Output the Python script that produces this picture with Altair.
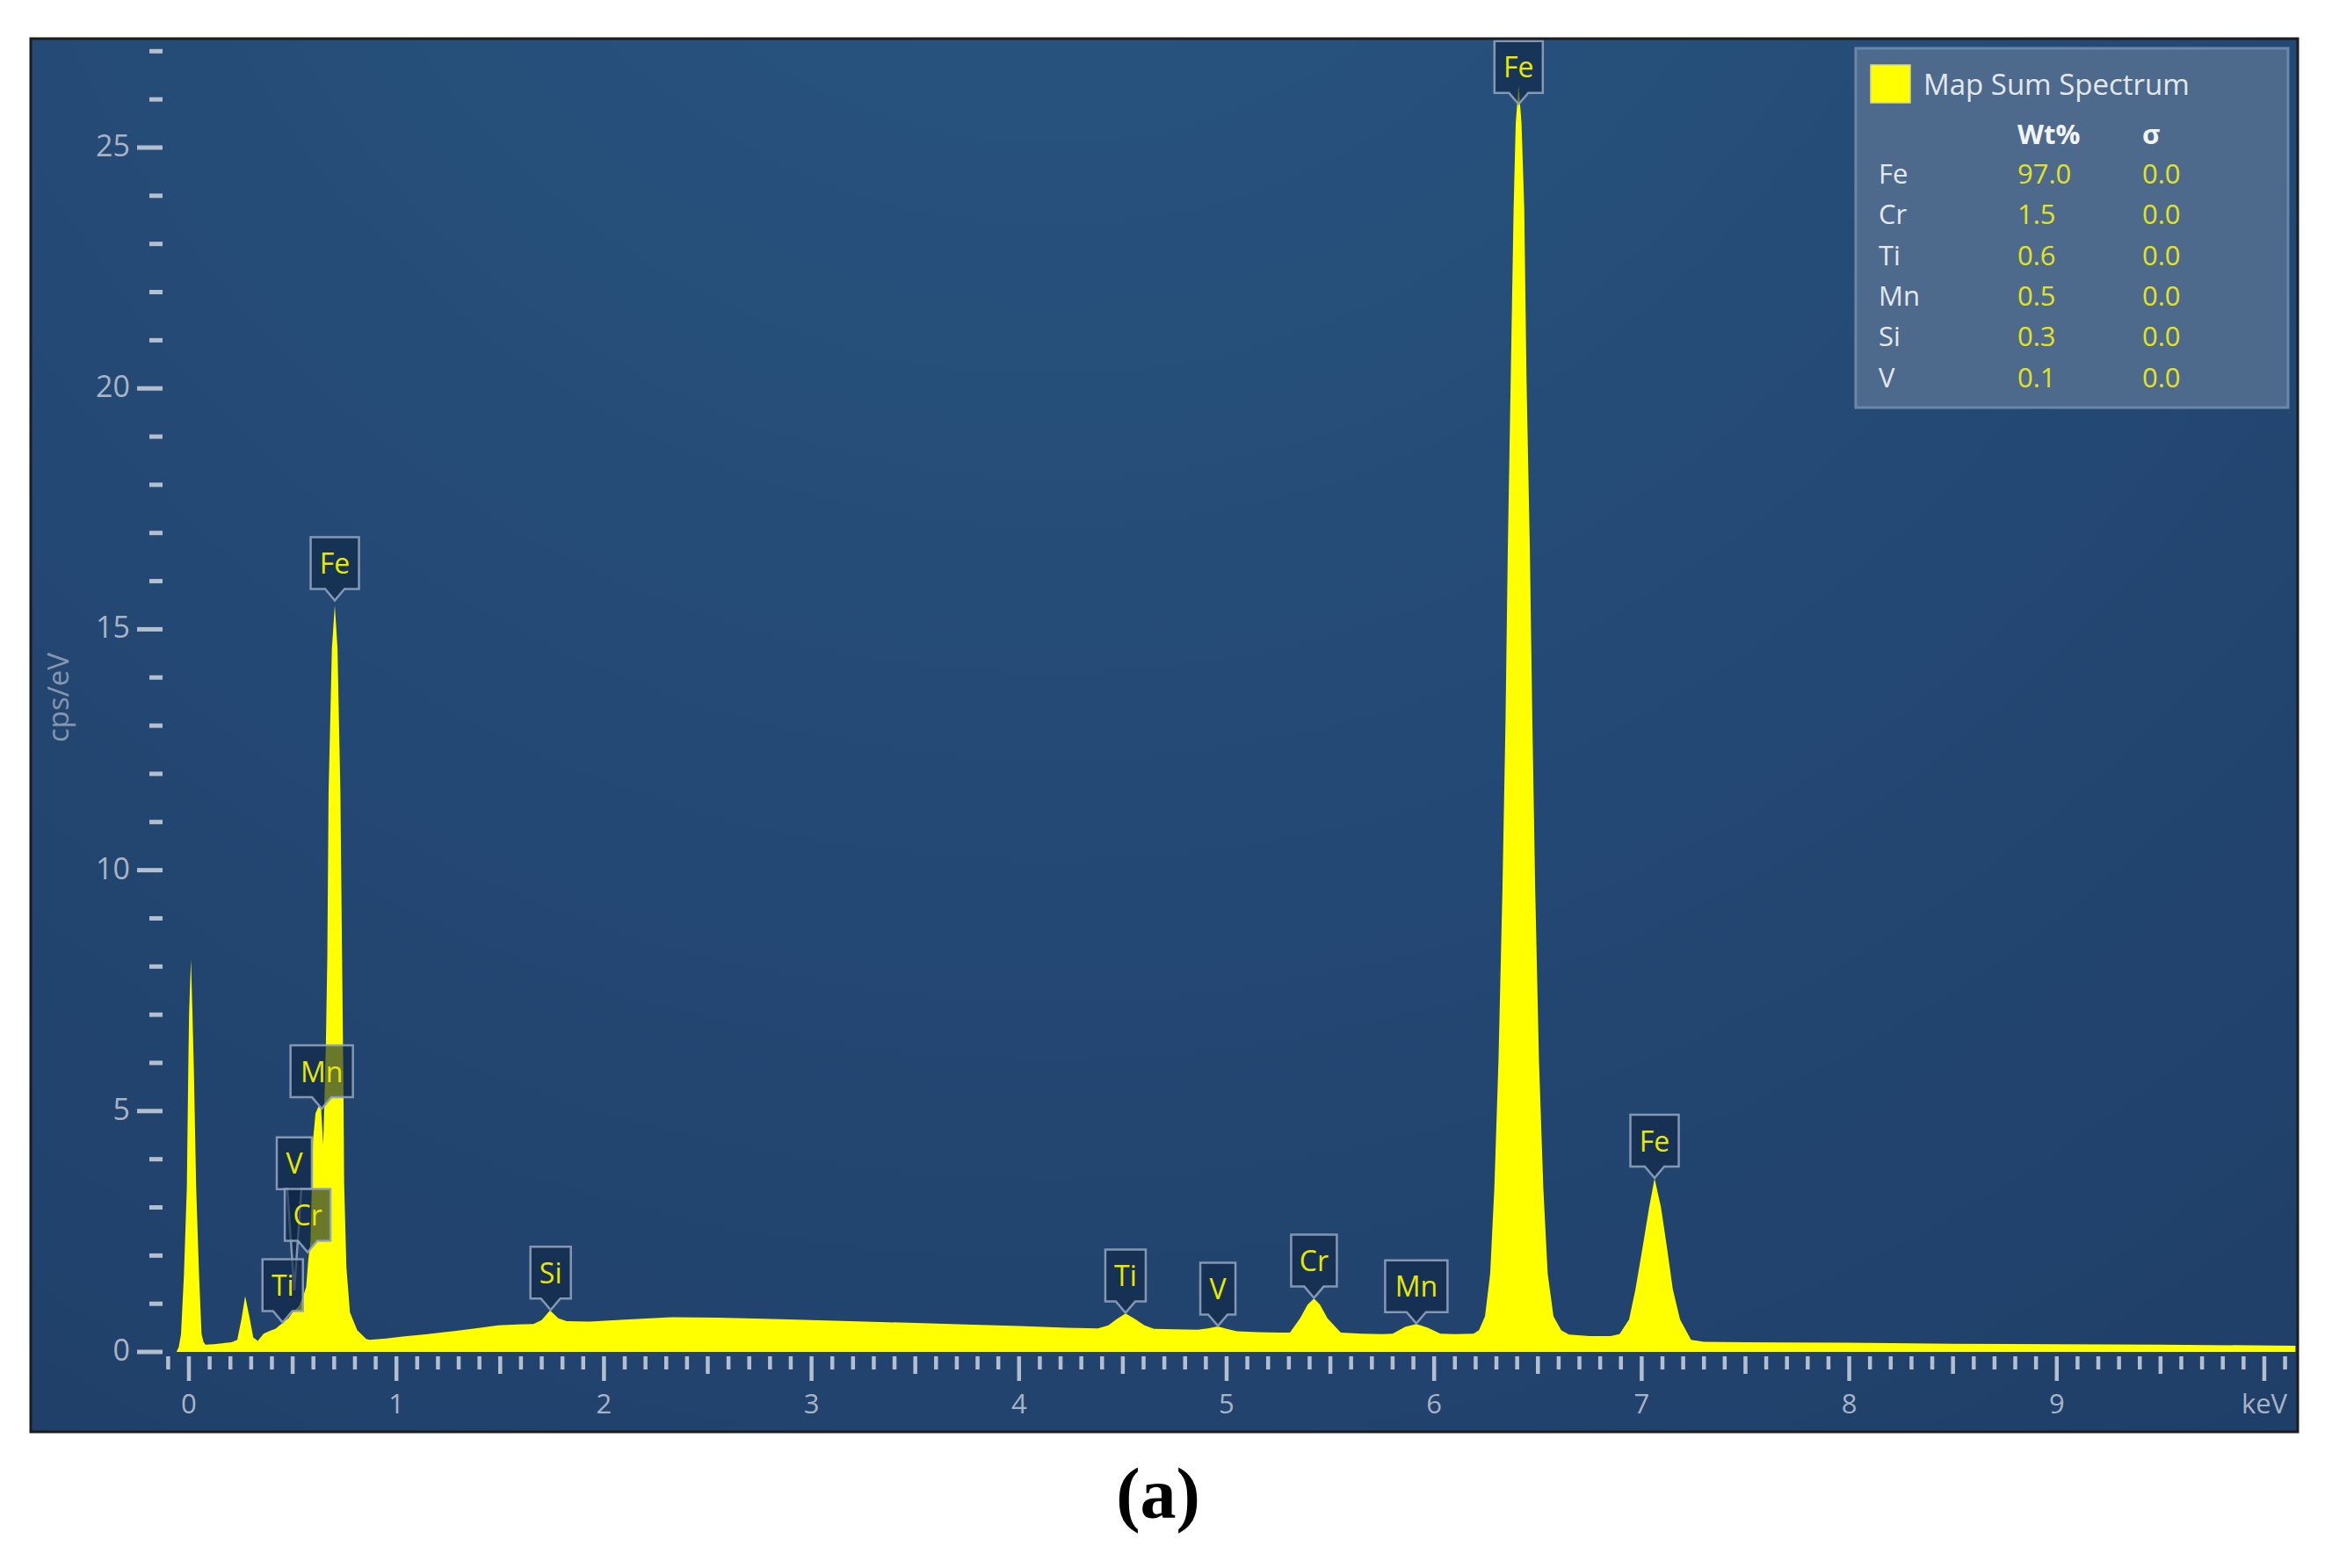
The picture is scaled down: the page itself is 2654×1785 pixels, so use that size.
import altair as alt
import pandas as pd

# ---------------- data ----------------
energy_kev = [
    -0.06, -0.049, -0.038, -0.024, -0.010, -0.003, 0.001, 0.010, 0.017, 0.024,
    0.035, 0.049, 0.061, 0.071, 0.08, 0.12, 0.16, 0.205, 0.233, 0.254,
    0.271, 0.293, 0.31, 0.332, 0.36, 0.39, 0.417, 0.445, 0.459, 0.48,
    0.50, 0.53, 0.55, 0.565, 0.575, 0.586, 0.592, 0.598, 0.61, 0.625,
    0.637, 0.647, 0.653, 0.66, 0.667, 0.673, 0.689, 0.703, 0.716, 0.730,
    0.738, 0.744, 0.748, 0.759, 0.776, 0.811, 0.854, 0.87, 0.95, 1.03,
    1.15, 1.27, 1.38, 1.49, 1.58, 1.66, 1.70, 1.74, 1.78, 1.82,
    1.93, 2.10, 2.33, 2.55, 2.77, 3.00, 3.26, 3.50, 3.74, 4.00,
    4.23, 4.38, 4.43, 4.47, 4.513, 4.56, 4.604, 4.65, 4.75, 4.86,
    4.91, 4.958, 5.00, 5.05, 5.15, 5.25, 5.305, 5.354, 5.39, 5.421,
    5.45, 5.486, 5.55, 5.65, 5.75, 5.80, 5.86, 5.914, 5.97, 6.03,
    6.10, 6.19, 6.216, 6.245, 6.270, 6.290, 6.310, 6.329, 6.344, 6.355,
    6.369, 6.383, 6.393, 6.407, 6.421, 6.434, 6.445, 6.461, 6.473, 6.487,
    6.505, 6.526, 6.547, 6.575, 6.612, 6.65, 6.75, 6.85, 6.893, 6.939,
    6.97, 7.005, 7.036, 7.062, 7.093, 7.121, 7.15, 7.185, 7.238, 7.30,
    7.50, 8.00, 8.50, 9.00, 9.50, 10.15,
]
counts_cps = [
    0.0, 0.10, 0.37, 1.59, 3.41, 5.84, 7.06, 8.15, 7.06, 5.84,
    3.41, 1.59, 0.37, 0.20, 0.15, 0.16, 0.18, 0.20, 0.25, 0.70,
    1.16, 0.70, 0.30, 0.23, 0.38, 0.44, 0.48, 0.58, 0.63, 0.70,
    0.82, 0.95, 1.15, 1.35, 1.90, 2.30, 3.40, 4.40, 4.95, 5.10,
    5.05, 4.30, 5.20, 6.40, 8.20, 11.60, 14.60, 15.50, 14.60, 11.60,
    8.20, 5.80, 3.50, 1.75, 0.82, 0.45, 0.27, 0.25, 0.28, 0.32,
    0.37, 0.43, 0.49, 0.55, 0.57, 0.58, 0.66, 0.86, 0.70, 0.64,
    0.63, 0.67, 0.72, 0.71, 0.69, 0.66, 0.63, 0.60, 0.57, 0.54,
    0.50, 0.49, 0.55, 0.68, 0.80, 0.68, 0.55, 0.48, 0.47, 0.46,
    0.49, 0.53, 0.48, 0.43, 0.41, 0.40, 0.40, 0.70, 0.98, 1.11,
    0.98, 0.70, 0.40, 0.38, 0.37, 0.38, 0.52, 0.58, 0.50, 0.38,
    0.37, 0.38, 0.45, 0.74, 1.63, 3.40, 6.05, 9.59, 13.13, 16.68,
    20.22, 23.76, 25.50, 26.30, 25.50, 23.76, 20.22, 16.68, 13.13, 9.59,
    6.05, 3.40, 1.63, 0.74, 0.45, 0.36, 0.33, 0.33, 0.37, 0.67,
    1.30, 2.19, 3.00, 3.60, 3.00, 2.19, 1.30, 0.67, 0.25, 0.21,
    0.20, 0.19, 0.17, 0.16, 0.15, 0.13,
]

peak_elements = ["Fe", "Mn", "V", "Cr", "Ti", "Si", "Ti", "V", "Cr", "Mn", "Fe", "Fe"]
peak_energy = [0.703, 0.640, 0.508, 0.572, 0.452, 1.743, 4.513, 4.958, 5.421, 5.914, 6.407, 7.062]
peak_top = [15.6, 5.05, 1.28, 2.07, 0.61, 0.87, 0.81, 0.54, 1.12, 0.59, 25.9, 3.61]

quant_elements = ["Fe", "Cr", "Ti", "Mn", "Si", "V"]
quant_wt = ["97.0", "1.5", "0.6", "0.5", "0.3", "0.1"]
quant_sigma = ["0.0", "0.0", "0.0", "0.0", "0.0", "0.0"]

y_tick_values = list(range(0, 28))
y_label_values = [0, 5, 10, 15, 20, 25]
x_tick_tenths = list(range(-1, 102))
x_label_pos = [0, 1, 2, 3, 4, 5, 6, 7, 8, 9, 10]
x_label_txt = ["0", "1", "2", "3", "4", "5", "6", "7", "8", "9", "keV"]

# ---------------- style ----------------
W, H = 2580, 1586
FONT = "Open Sans"
TICK = "#b3bfcf"
LAB = "#a8b4c6"
YEL = "#ffff00"
LABTXT = "#e8e800"

xs = alt.Scale(domain=[-0.762, 10.161], nice=False, zero=False)
ys = alt.Scale(domain=[-1.659, 27.261], nice=False, zero=False)

one = pd.DataFrame({"k": [0]})

grad = {
    "gradient": "radial",
    "x1": 0.45, "y1": 0.0, "x2": 0.45, "y2": 0.0, "r1": 0, "r2": 1.0,
    "stops": [
        {"offset": 0, "color": "#2a5884"},
        {"offset": 0.5, "color": "#244a75"},
        {"offset": 1, "color": "#1f3e67"},
    ],
}
bg = alt.Chart(one).mark_rect(fill=grad).encode(
    x=alt.value(0), x2=alt.value(W), y=alt.value(0), y2=alt.value(H)
)

# y ticks
df_yt = pd.DataFrame({"v": y_tick_values})
df_yt["major"] = df_yt["v"] % 5 == 0
ymaj = alt.Chart(df_yt[df_yt["major"]]).mark_rule(color=TICK, strokeWidth=5).encode(
    x=alt.value(121), x2=alt.value(150), y=alt.Y("v:Q", scale=ys, axis=None)
)
ymin = alt.Chart(df_yt[~df_yt["major"]]).mark_rule(color=TICK, strokeWidth=5).encode(
    x=alt.value(135), x2=alt.value(150), y=alt.Y("v:Q", scale=ys, axis=None)
)
df_yl = pd.DataFrame({"v": y_label_values, "t": [str(v) for v in y_label_values]})
ylab = alt.Chart(df_yl).mark_text(
    align="right", baseline="middle", font=FONT, fontSize=34, color=LAB
).encode(x=alt.value(113), y=alt.Y("v:Q", scale=ys, axis=None), text="t:N")
ytitle = alt.Chart(pd.DataFrame({"t": ["cps/eV"]})).mark_text(
    angle=270, align="center", baseline="middle", font=FONT, fontSize=33, color="#8596ae"
).encode(x=alt.value(33), y=alt.value(750), text="t:N")

# spectrum
df_spec = pd.DataFrame({"e": energy_kev, "c": counts_cps})
area = alt.Chart(df_spec).transform_calculate(base="0").mark_area(
    color=YEL, interpolate="linear", opacity=1
).encode(
    x=alt.X("e:Q", scale=xs, axis=None),
    y=alt.Y("c:Q", scale=ys, axis=None),
    y2=alt.Y2("base:Q"),
)

# x ticks
df_xt = pd.DataFrame({"k": x_tick_tenths})
df_xt["t"] = df_xt["k"] / 10.0
kind = []
for k in x_tick_tenths:
    if k % 10 == 0:
        kind.append("int")
    elif k % 5 == 0:
        kind.append("half")
    else:
        kind.append("minor")
df_xt["kind"] = kind
xt_layers = []
for kd, bottom in [("minor", 1515), ("half", 1520), ("int", 1528)]:
    xt_layers.append(
        alt.Chart(df_xt[df_xt["kind"] == kd]).mark_rule(color=TICK, strokeWidth=4.5).encode(
            x=alt.X("t:Q", scale=xs, axis=None), y=alt.value(1500), y2=alt.value(bottom)
        )
    )
df_xl = pd.DataFrame({"p": x_label_pos, "t": x_label_txt})
xlab = alt.Chart(df_xl).mark_text(
    align="center", baseline="middle", font=FONT, fontSize=31, color=LAB
).encode(x=alt.X("p:Q", scale=xs, axis=None), y=alt.value(1556), text="t:N")

# peak label boxes (custom symbol paths, pixel units with size=4)
box_w = {"V": 40, "Ti": 46, "Si": 46, "Fe": 55, "Cr": 52, "Mn": 71}
BOX_H = 59
ptr_len = [13] * len(peak_elements)
ptr_len[2] = 115  # V-L label is lifted above the Cr-L label
ptr_half = [11] * len(peak_elements)
ptr_half[2] = 8


def box_path(w, h, L, k):
    hw = w / 2.0
    return (
        f"M{-hw},{-(L + h)}L{hw},{-(L + h)}L{hw},{-L}L{k},{-L}"
        f"L0,0L{-k},{-L}L{-hw},{-L}Z"
    )


lids = [f"p{i}" for i in range(len(peak_elements))]
paths = [box_path(box_w[el], BOX_H, ptr_len[i], ptr_half[i]) for i, el in enumerate(peak_elements)]
df_lab = pd.DataFrame({
    "lid": lids, "el": peak_elements, "e": peak_energy, "c": peak_top, "L": ptr_len,
})
boxes = alt.Chart(df_lab).mark_point(
    size=4, filled=True, fill="#0e2542", fillOpacity=0.62,
    stroke="#8fa2bb", strokeWidth=2.5, strokeOpacity=0.9, opacity=1,
).encode(
    x=alt.X("e:Q", scale=xs, axis=None),
    y=alt.Y("c:Q", scale=ys, axis=None),
    shape=alt.Shape("lid:N", scale=alt.Scale(domain=lids, range=paths), legend=None),
)
txt_norm = alt.Chart(df_lab[df_lab["L"] == 13]).mark_text(
    align="center", baseline="middle", font=FONT, fontSize=32, color=LABTXT, dy=-(13 + BOX_H / 2) + 2
).encode(x=alt.X("e:Q", scale=xs, axis=None), y=alt.Y("c:Q", scale=ys, axis=None), text="el:N")
txt_long = alt.Chart(df_lab[df_lab["L"] == 115]).mark_text(
    align="center", baseline="middle", font=FONT, fontSize=32, color=LABTXT, dy=-(115 + BOX_H / 2) + 2
).encode(x=alt.X("e:Q", scale=xs, axis=None), y=alt.Y("c:Q", scale=ys, axis=None), text="el:N")

# quant legend
leg_box = alt.Chart(one).mark_rect(fill="#4d6a8d", stroke="#6887ab", strokeWidth=3).encode(
    x=alt.value(2077), x2=alt.value(2569), y=alt.value(11), y2=alt.value(420)
)
leg_sq = alt.Chart(one).mark_rect(fill=YEL, stroke="#d6d68a", strokeWidth=1.5).encode(
    x=alt.value(2094), x2=alt.value(2139), y=alt.value(30), y2=alt.value(73)
)
leg_title = alt.Chart(pd.DataFrame({"t": ["Map Sum Spectrum"]})).mark_text(
    align="left", baseline="alphabetic", font=FONT, fontSize=33, color="#e3e8ee"
).encode(x=alt.value(2154), y=alt.value(64), text="t:N")
hdr_wt = alt.Chart(pd.DataFrame({"t": ["Wt%"]})).mark_text(
    align="left", baseline="alphabetic", font=FONT, fontSize=31, fontWeight="bold", color="#f2f4f7"
).encode(x=alt.value(2261), y=alt.value(120), text="t:N")
hdr_sg = alt.Chart(pd.DataFrame({"t": ["σ"]})).mark_text(
    align="left", baseline="alphabetic", font=FONT, fontSize=31, fontWeight="bold", color="#f2f4f7"
).encode(x=alt.value(2403), y=alt.value(120), text="t:N")

df_q = pd.DataFrame({
    "i": list(range(len(quant_elements))),
    "el": quant_elements, "wt": quant_wt, "sg": quant_sigma,
})
row_scale = alt.Scale(domain=[0, 5], range=[165, 396.5])
q_el = alt.Chart(df_q).mark_text(
    align="left", baseline="alphabetic", font=FONT, fontSize=31, color="#e3e8ee"
).encode(x=alt.value(2103), y=alt.Y("i:Q", scale=row_scale, axis=None), text="el:N")
q_wt = alt.Chart(df_q).mark_text(
    align="left", baseline="alphabetic", font=FONT, fontSize=31, color="#e2e21e"
).encode(x=alt.value(2261), y=alt.Y("i:Q", scale=row_scale, axis=None), text="wt:N")
q_sg = alt.Chart(df_q).mark_text(
    align="left", baseline="alphabetic", font=FONT, fontSize=31, color="#e2e21e"
).encode(x=alt.value(2403), y=alt.Y("i:Q", scale=row_scale, axis=None), text="sg:N")

border = alt.Chart(one).mark_rect(filled=False, color="#1c1c1c", strokeWidth=3).encode(
    x=alt.value(0), x2=alt.value(W), y=alt.value(0), y2=alt.value(H)
)
caption = alt.Chart(pd.DataFrame({"t": ["(a)"]})).mark_text(
    align="center", baseline="alphabetic", font="Liberation Serif", fontSize=82,
    fontWeight="bold", color="#000000"
).encode(x=alt.value(1283), y=alt.value(1684), text="t:N")

main = alt.layer(
    bg, ymaj, ymin, ylab, ytitle, area, *xt_layers, xlab,
    boxes, txt_norm, txt_long,
    leg_box, leg_sq, leg_title, hdr_wt, hdr_sg, border, caption,
)
legend_rows = alt.layer(q_el, q_wt, q_sg)

chart = alt.layer(main, legend_rows).resolve_scale(y="independent").properties(
    width=W, height=H,
    padding={"left": 25, "top": 33, "right": 20, "bottom": 10},
    background="#ffffff",
).configure_view(strokeWidth=0)

chart.save("out.html", embed_options={"renderer": "svg", "actions": False})
